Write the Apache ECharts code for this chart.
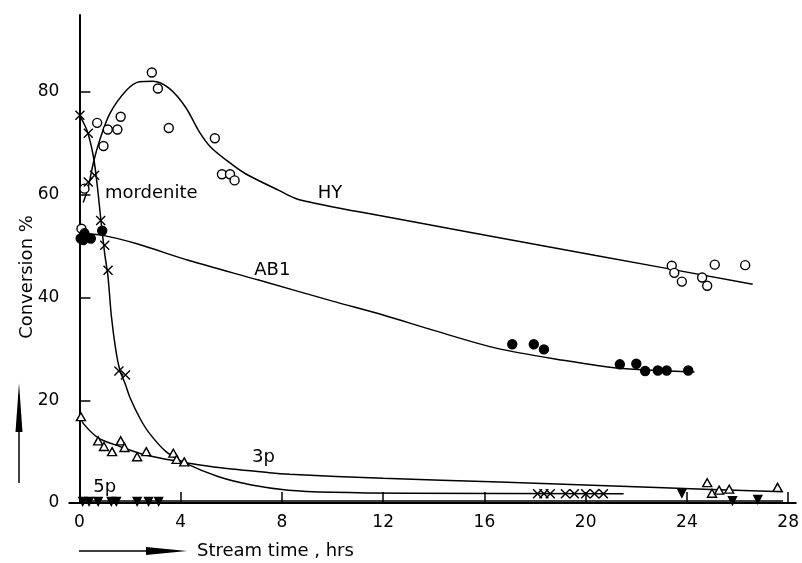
<!DOCTYPE html>
<html>
<head>
<meta charset="utf-8">
<script src="https://cdn.jsdelivr.net/npm/echarts@6/dist/echarts.min.js"></script>
<style>
  html, body { margin: 0; padding: 0; background: #fff; }
  #chart { width: 802px; height: 563px; }
</style>
</head>
<body>
<div id="chart"></div>
<script>
// values: [stream time (hrs), conversion %]
var xTicks = [0, 4, 8, 12, 16, 20, 24, 28];
var yTicks = [0, 20, 40, 60, 80];

var hyPoints = [
  [0.08, 53.4], [0.2, 61.2], [0.7, 74], [0.95, 69.5], [1.12, 72.7], [1.5, 72.7],
  [1.63, 75.2], [2.86, 83.8], [3.1, 80.7], [3.53, 73], [5.35, 71], [5.63, 64],
  [5.95, 64], [6.13, 62.8],
  [23.4, 46.2], [23.5, 44.8], [23.8, 43.1], [24.6, 43.9], [24.8, 42.3],
  [25.1, 46.4], [26.3, 46.3]
];
var hyCurve = [
  [0.15, 58.5], [0.35, 61.5], [0.54, 66], [0.8, 70.6], [1.2, 75.8], [1.85, 80.3],
  [2.37, 82], [2.9, 82.1], [3.55, 80.7], [4.2, 77], [4.73, 72.3], [5.2, 69.2],
  [6.0, 66], [6.56, 64.1], [7.86, 60.9], [8.65, 59.1], [11.8, 56], [20.4, 48.2],
  [26.6, 42.6]
];

var ab1Points = [
  [0.05, 51.5], [0.2, 52.5], [0.45, 51.5], [0.15, 51.2], [0.9, 53],
  [17.1, 30.9], [17.95, 30.9], [18.35, 29.9], [21.35, 27.0], [22.0, 27.1],
  [22.35, 25.7], [22.85, 25.8], [23.2, 25.8], [24.05, 25.8]
];
var ab1Curve = [
  [0, 52.5], [0.93, 52.1], [2.24, 50.5], [4.33, 47.2], [7.08, 43.4], [10, 39.3],
  [12, 36.6], [14, 33.6], [16.5, 30.1], [19.1, 27.8], [21.2, 26.3], [24.3, 25.5]
];

var mordPoints = [
  [0.02, 75.5], [0.35, 72], [0.35, 62.5], [0.6, 63.8], [0.84, 55], [1.0, 50.2],
  [1.13, 45.3], [1.56, 25.7], [1.82, 24.9],
  [18.1, 1.8], [18.35, 1.8], [18.6, 1.8], [19.2, 1.8], [19.55, 1.8],
  [20.0, 1.8], [20.35, 1.8], [20.7, 1.8]
];
var mordCurve = [
  [0, 75.5], [0.3, 72.5], [0.55, 67.5], [0.7, 62], [0.85, 55], [1.0, 48.5],
  [1.13, 44], [1.26, 36.5], [1.43, 30], [1.6, 25.8], [1.8, 23.3], [2.0, 20.5],
  [2.4, 16.4], [2.76, 13.6], [3.42, 10], [4.2, 7.7], [5.5, 5.1], [6.8, 3.5],
  [8.25, 2.5], [10, 2.1], [13, 1.9], [21.5, 1.8]
];

var p3Points = [
  [0.06, 16.8], [0.74, 12.1], [0.97, 11.0], [1.29, 10.0], [1.63, 12.1],
  [1.78, 10.8], [2.28, 9.0], [2.64, 10.0], [3.71, 9.7], [3.84, 8.5], [4.14, 8.0],
  [24.8, 3.95], [24.99, 1.9], [25.27, 2.5], [25.67, 2.7], [27.58, 3.05]
];
var p3Curve = [
  [0.05, 16.8], [0.15, 15.5], [0.74, 12.7], [1.6, 11.0], [2.5, 9.5], [3.55, 8.4],
  [4.14, 7.9], [5.5, 6.9], [7.5, 5.9], [8.3, 5.6], [12, 4.8], [16.6, 4.1],
  [22.8, 3.0], [27.8, 2.2]
];

var p5Points = [
  [0.13, 0.3], [0.38, 0.3], [0.74, 0.3], [1.26, 0.3], [1.46, 0.3], [2.28, 0.3],
  [2.73, 0.3], [3.13, 0.3], [23.8, 1.9], [25.8, 0.45], [26.8, 0.7]
];
var p5Curve = [[0, 0.4], [27.8, 0.4]];

// curve names written on the plot (label centre): [time, conversion, text]
var curveLabels = [
  [9.9, 60.3, 'HY'],
  [7.62, 45.3, 'AB1'],
  [2.84, 60.3, 'mordenite'],
  [7.27, 8.95, '3p'],
  [1.0, 3.1, '5p']
];

var FONT = 'DejaVu Sans';
var chart = echarts.init(document.getElementById('chart'));

function curve(data) {
  return {
    type: 'line',
    data: data,
    smooth: 0.3,
    showSymbol: false,
    silent: true,
    lineStyle: { color: '#000', width: 1.5 },
    z: 2
  };
}

function marks(data, symbol, size, fill, extra) {
  var s = {
    type: 'scatter',
    data: data,
    symbol: symbol,
    symbolSize: size,
    itemStyle: { color: fill, borderColor: '#000', borderWidth: 1.4, opacity: 1 },
    z: 3
  };
  return Object.assign(s, extra || {});
}

var option = {
  animation: false,
  backgroundColor: '#fff',
  grid: { left: 69.3, right: 0, top: 15, bottom: 60 },
  xAxis: {
    type: 'value',
    min: -0.4,
    max: 28.3,
    splitLine: { show: false },
    axisLine: { lineStyle: { color: '#000', width: 2 } },
    axisTick: { inside: true, length: 11, customValues: xTicks, lineStyle: { color: '#000', width: 1.5 } },
    axisLabel: { customValues: xTicks, color: '#000', fontFamily: FONT, fontSize: 17, margin: 11 }
  },
  yAxis: {
    type: 'value',
    min: 0,
    max: 95,
    splitLine: { show: false },
    axisLine: { onZero: true, lineStyle: { color: '#000', width: 2 } },
    axisTick: { inside: true, length: 11, customValues: yTicks, lineStyle: { color: '#000', width: 1.5 } },
    axisLabel: { customValues: yTicks, color: '#000', fontFamily: FONT, fontSize: 17, margin: 10 }
  },
  series: [
    curve(hyCurve),
    curve(ab1Curve),
    curve(mordCurve),
    curve(p3Curve),
    curve(p5Curve),
    marks(hyPoints, 'circle', 9, '#fff'),
    marks(ab1Points, 'circle', 9, '#000'),
    marks(mordPoints, 'path://M0,0L10,10M10,0L0,10', 9, 'none'),
    marks(p3Points, 'triangle', [9, 8], '#fff'),
    marks(p5Points, 'triangle', 8, '#000', { symbolRotate: 180 }),
    {
      type: 'scatter',
      data: curveLabels.map(function(d) { return { value: [d[0], d[1]], name: d[2] }; }),
      symbolSize: 0,
      silent: true,
      itemStyle: { opacity: 1 },
      label: {
        show: true,
        position: 'inside',
        formatter: '{b}',
        color: '#000',
        textBorderWidth: 0,
        fontFamily: FONT,
        fontSize: 18
      },
      z: 4
    }
  ],
  graphic: [
    {
      type: 'text',
      x: 27, y: 277,
      rotation: Math.PI / 2,
      style: { text: 'Conversion %', fill: '#000', font: '18px "DejaVu Sans"', align: 'center', verticalAlign: 'middle' }
    },
    { type: 'line', shape: { x1: 19, y1: 483, x2: 19, y2: 400 }, style: { stroke: '#000', lineWidth: 1.5 } },
    { type: 'polygon', shape: { points: [[19, 383], [15.5, 432], [22.5, 432]] }, style: { fill: '#000' } },
    {
      type: 'text',
      x: 197, y: 551,
      style: { text: 'Stream time , hrs', fill: '#000', font: '18px "DejaVu Sans"', align: 'left', verticalAlign: 'middle' }
    },
    { type: 'line', shape: { x1: 79, y1: 551, x2: 170, y2: 551 }, style: { stroke: '#000', lineWidth: 1.5 } },
    { type: 'polygon', shape: { points: [[187, 551], [146, 547], [146, 555]] }, style: { fill: '#000' } }
  ]
};

chart.setOption(option);
</script>
</body>
</html>
